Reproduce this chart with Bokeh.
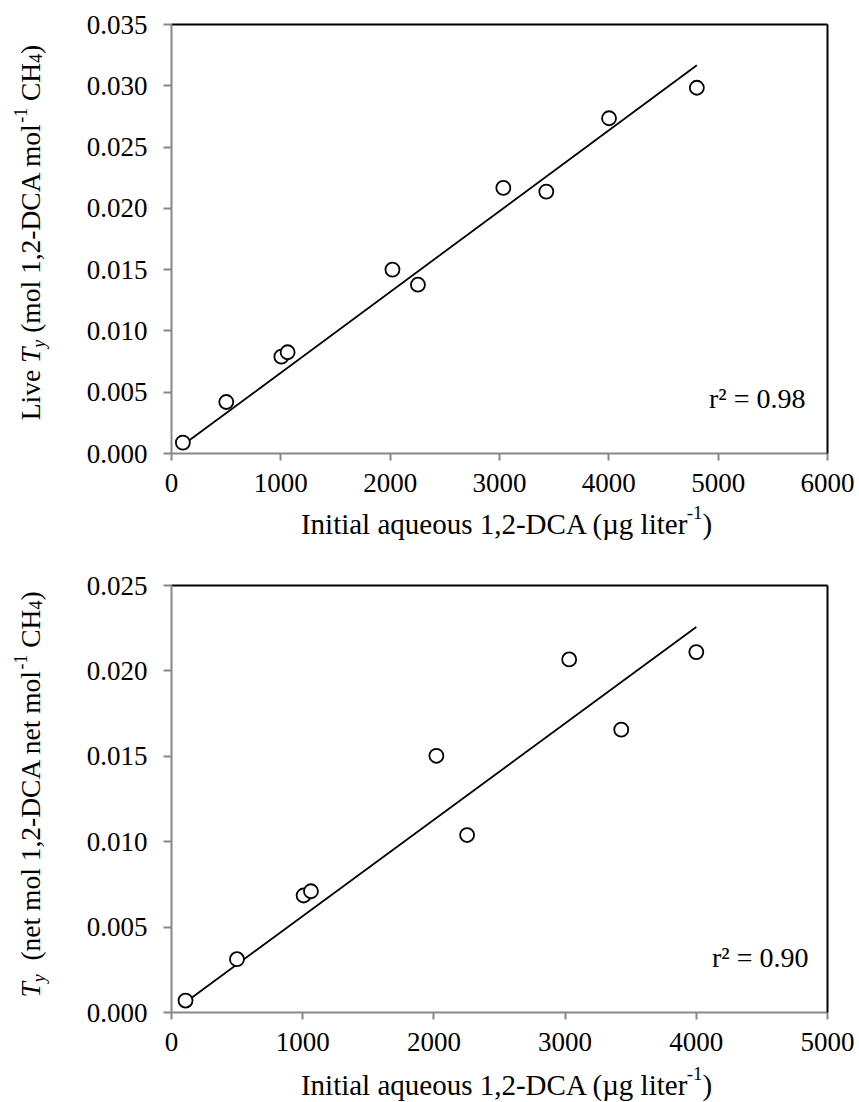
import math
import numpy as np
from bokeh.plotting import figure
from bokeh.models import Range1d, FixedTicker, PrintfTickFormatter, LinearAxis, Label
from bokeh.layouts import column, row
from bokeh.core.properties import value
from bokeh.embed import file_html
from bokeh.resources import INLINE

# ---------------- data ----------------
live_x = [104, 501, 1005, 1062, 2021, 2254, 3035, 3428, 4002, 4805]
live_y = [0.00089, 0.0042, 0.0079, 0.00826, 0.0150, 0.01377, 0.02167, 0.02137, 0.02735, 0.02984]
live_r2 = "r² = 0.98"

net_x = [107, 499, 1007, 1063, 2019, 2253, 3031, 3428, 4000]
net_y = [0.0007, 0.00312, 0.00685, 0.0071, 0.01503, 0.01039, 0.02067, 0.01656, 0.0211]
net_r2 = "r² = 0.90"

top_xticks = [0, 1000, 2000, 3000, 4000, 5000, 6000]
top_yticks = [0.000, 0.005, 0.010, 0.015, 0.020, 0.025, 0.030, 0.035]
bot_xticks = [0, 1000, 2000, 3000, 4000, 5000]
bot_yticks = [0.000, 0.005, 0.010, 0.015, 0.020, 0.025]

xlabel_pieces = [("Initial aqueous 1,2-DCA (µg liter", "n"), ("-1", "sup"), (")", "n")]
top_ylabel_pieces = [("Live ", "n"), ("T", "i"), ("y", "isub"), (" (mol 1,2-DCA mol", "n"),
                     ("-1", "sup"), (" CH", "n"), ("4", "sub"), (")", "n")]
bot_ylabel_pieces = [("T", "i"), ("y", "isub"), ("  (net mol 1,2-DCA net mol", "n"),
                     ("-1", "sup"), (" CH", "n"), ("4", "sub"), (")", "n")]

FONT = "Liberation Serif"
AXIS_GREY = "#878787"
ASC = 0.891  # Liberation Serif ascent (em)

# Times / Liberation Serif advance widths (1/1000 em)
W = {' ': 250, '(': 333, ')': 333, ',': 250, '-': 333, '.': 250, 'A': 722, 'C': 667, 'D': 722,
     'H': 722, 'I': 333, 'L': 611, 'T': 611, 'a': 444, 'e': 444, 'g': 500, 'i': 278, 'l': 278,
     'm': 778, 'n': 500, 'o': 500, 'q': 500, 'r': 333, 's': 389, 't': 278, 'u': 500, 'v': 500,
     'y': 500, 'µ': 500}
WI = {'T': 556, 'y': 444}


def text_w(s, italic, fs):
    tab = WI if italic else W
    return sum(tab.get(c, W.get(c, 500)) for c in s) / 1000.0 * fs


def strip(w, h, top_b=0, bot_b=0):
    # coordinates inside the strip: 1 unit = 1 px, y measured up from the strip's bottom edge
    s = figure(width=w, height=h, x_range=Range1d(0, w), y_range=Range1d(bot_b, h - top_b),
               output_backend="svg", toolbar_location=None,
               x_axis_location=None, y_axis_location=None,
               min_border_left=0, min_border_right=0, min_border_top=top_b,
               min_border_bottom=bot_b)
    s.grid.visible = False
    s.outline_line_color = None
    s.background_fill_color = "white"
    s.border_fill_color = "white"
    return s


def compose(s, pieces, size, base, start, vertical):
    """base = baseline position (px, strip coords); start = position where the text begins."""
    cur = start
    for txt, kind in pieces:
        small = kind in ("sub", "sup", "isub")
        fs = size * 0.65 if small else size
        italic = kind in ("i", "isub")
        shift = 0.0
        if kind in ("sub", "isub"):
            shift = -0.21 * size
        elif kind == "sup":
            shift = 0.36 * size
        adv = text_w(txt, italic, fs)
        lead = len(txt) - len(txt.lstrip(' '))
        stripped = txt.strip(' ')
        pos = cur + lead * 0.25 * fs
        if stripped:
            if vertical:
                x, y, ang = base - shift - ASC * fs, pos, math.pi / 2
            else:
                x, y, ang = pos, base + shift + ASC * fs, 0.0
            s.text(x=[x], y=[y], text=[stripped], angle=ang,
                   text_font=value(FONT), text_font_size=value(f"{fs:.1f}px"),
                   text_font_style=value("italic" if italic else "normal"),
                   text_color="black", text_align="left", text_baseline="top")
        cur += adv


def total_len(pieces, size):
    t = 0.0
    for txt, kind in pieces:
        small = kind in ("sub", "sup", "isub")
        t += text_w(txt, kind in ("i", "isub"), size * 0.65 if small else size)
    return t


def make_plot(xs, ys, xticks, yticks, r2, height, top_b, bot_b, r2_dx, r2_base):
    p = figure(width=799, height=height, output_backend="svg", toolbar_location=None,
               x_range=Range1d(xticks[0], xticks[-1]), y_range=Range1d(yticks[0], yticks[-1]),
               min_border_left=111, min_border_right=32, min_border_top=top_b,
               min_border_bottom=bot_b)
    p.grid.visible = False
    p.outline_line_color = None
    p.background_fill_color = "white"
    p.border_fill_color = "white"

    for ax in (p.xaxis[0], p.yaxis[0]):
        ax.axis_line_color = AXIS_GREY
        ax.axis_line_width = 2
        ax.major_tick_line_color = AXIS_GREY
        ax.major_tick_line_width = 2
        ax.major_tick_in = 0
        ax.minor_tick_line_color = None
        ax.major_label_text_font = FONT
        ax.major_label_text_font_size = "27px"
        ax.major_label_text_color = "black"
    p.xaxis.ticker = FixedTicker(ticks=xticks)
    p.yaxis.ticker = FixedTicker(ticks=yticks)
    p.xaxis.formatter = PrintfTickFormatter(format="%d")
    p.yaxis.formatter = PrintfTickFormatter(format="%.3f")
    p.xaxis.major_tick_out = 7
    p.yaxis.major_tick_out = 8
    p.xaxis.major_label_standoff = 13
    p.yaxis.major_label_standoff = 16

    for side in ("above", "right"):
        a = LinearAxis(ticker=FixedTicker(ticks=[]), axis_line_color="black", axis_line_width=2,
                       major_tick_line_color=None, minor_tick_line_color=None)
        p.add_layout(a, side)

    # least-squares line through the origin
    xa = np.array(xs, dtype=float)
    ya = np.array(ys, dtype=float)
    slope = float((xa * ya).sum() / (xa * xa).sum())
    lx = [min(xs), max(xs)]
    ly = [slope * v for v in lx]
    p.line(lx, ly, line_color="black", line_width=1.8)
    p.scatter(xs, ys, marker="circle", size=14, fill_color="white", line_color="black",
              line_width=1.8)

    p.add_layout(Label(x=xticks[-1], y=yticks[0], x_offset=r2_dx,
                       y_offset=r2_base + ASC * 28, text=r2,
                       text_font=FONT, text_font_size="28px", text_align="right",
                       text_baseline="top", text_color="black"))
    return p


YS = 27.5   # y-label font size
XS = 29     # x-label font size
LX = total_len(xlabel_pieces, XS)

# ---- top section (canvas y 0..560) ----
T1, B1 = 24, 50
H1 = 503
p1 = make_plot(live_x, live_y, top_xticks, top_yticks, live_r2, H1, T1, B1, -22, 46)
yl1 = strip(60, H1, T1, B1)
L1 = total_len(top_ylabel_pieces, YS)
compose(yl1, top_ylabel_pieces, YS, 39, (H1 - 232) - L1 / 2, True)
xl1 = strip(859, 560 - H1)
compose(xl1, xlabel_pieces, XS, 560 - 533, 506 - LX / 2, False)

# ---- bottom section (canvas y 560..1102) ----
T2, B2 = 25, 50
H2 = 502
p2 = make_plot(net_x, net_y, bot_xticks, bot_yticks, net_r2, H2, T2, B2, -19, 46)
yl2 = strip(60, H2, T2, B2)
L2 = total_len(bot_ylabel_pieces, YS)
compose(yl2, bot_ylabel_pieces, YS, 39, (H2 - (794 - 560)) - L2 / 2, True)
xl2 = strip(859, 1102 - 560 - H2)
compose(xl2, xlabel_pieces, XS, 1102 - 1094, 506 - LX / 2, False)

layout = column(row(yl1, p1, spacing=0), xl1, row(yl2, p2, spacing=0), xl2, spacing=0)
open("out.html", "w").write(file_html(layout, INLINE))
